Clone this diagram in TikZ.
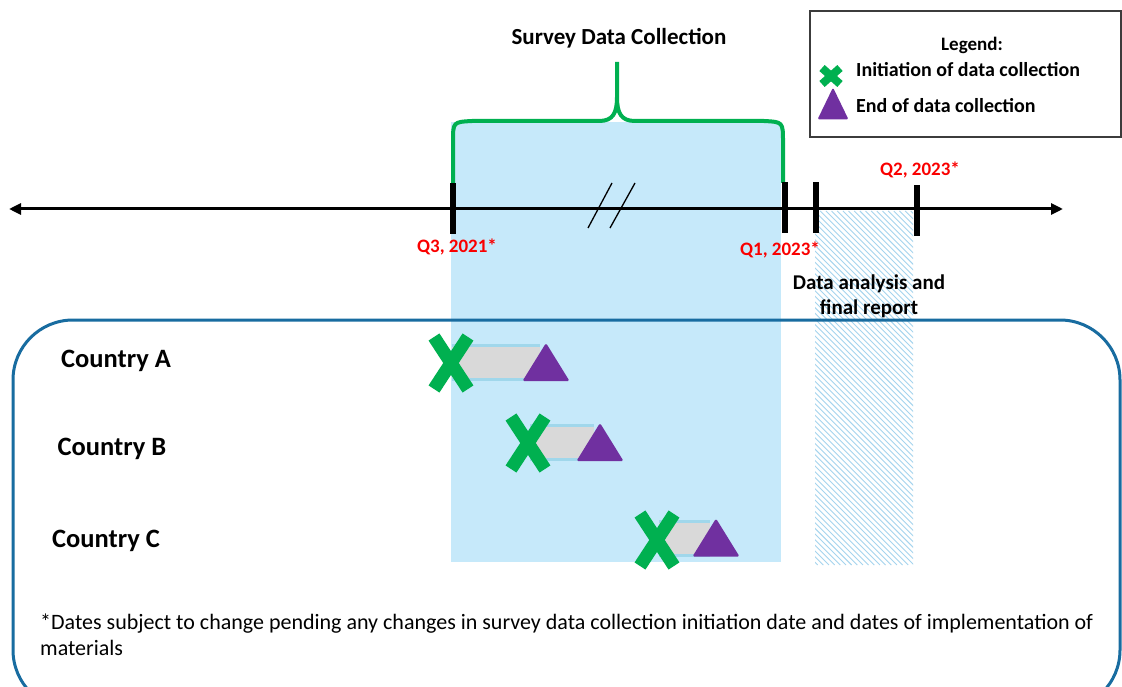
\documentclass[tikz,border=0pt]{standalone}
\usepackage{fontspec}
\setmainfont{Carlito}
\usetikzlibrary{arrows.meta}
\definecolor{survblue}{RGB}{198,233,250}
\definecolor{hatchblue}{RGB}{165,212,238}
\definecolor{bracegreen}{RGB}{0,176,80}
\definecolor{markgreen}{RGB}{0,176,80}
\definecolor{markpurple}{RGB}{112,48,160}
\definecolor{frameblue}{RGB}{24,108,160}
\definecolor{barblue}{RGB}{160,215,235}
\definecolor{bargray}{RGB}{217,217,217}
\definecolor{qred}{RGB}{250,0,0}
\definecolor{legframe}{RGB}{60,60,60}
\begin{document}
\begin{tikzpicture}[x=1pt,y=-1pt,
  tickmark/.style={fill=black,inner sep=0pt,minimum width=6pt,minimum height=51pt},
  qlabel/.style={text=qred,font=\bfseries\fontsize{19}{22}\selectfont,inner sep=0pt},
  country/.style={font=\bfseries\fontsize{26.5}{30}\selectfont,inner sep=0pt},
  legtext/.style={font=\bfseries\fontsize{20}{24}\selectfont,inner sep=0pt,anchor=west},
  xmark/.pic={\draw[markgreen,line width=13pt,line cap=butt] (-17,-26) -- (17,26) (-17,26) -- (17,-26);},
  smallxmark/.pic={\draw[markgreen,line width=8pt,line cap=butt] (-9,-8) -- (9,8) (-9,8) -- (9,-8);},
  tri/.pic={\fill[markpurple,rounded corners=1.5pt] (0,-19) -- (23.5,19) -- (-23.5,19) -- cycle;},
  smalltri/.pic={\fill[markpurple,rounded corners=1.5pt] (0,-16) -- (15.5,16) -- (-15.5,16) -- cycle;},
  barstrip/.style={barblue,line width=3.5pt}
]
\useasboundingbox (0,0) rectangle (1122,687);
\fill[white] (0,0) rectangle (1122,687);
% survey period area
\fill[survblue] (451,122) rectangle (781,562);
% hatched analysis area
\begin{scope}
\clip (815,211) rectangle (913,565);
\foreach \a in {458,463.66,...,918} \draw[hatchblue,line width=0.9pt] (\a,211) -- ({\a+354},565);
\end{scope}
% title and brace
\node[font=\bfseries\fontsize{23}{28}\selectfont,inner sep=0pt] (title) at (619,38) {Survey Data Collection};
\draw[bracegreen,line width=4pt,line join=round]
  (453,183) -- (453,142) .. controls (453,122) .. (472,121) -- (599,121)
  .. controls (613,121) and (617,113) .. (617,97) -- (617,62)
  (617,62) -- (617,97) .. controls (617,113) and (621,121) .. (635,121)
  -- (764,121) .. controls (783,122) .. (783,142) -- (783,183);
% timeline
\coordinate (tl) at (9,209);
\coordinate (tr) at (1063,209);
\draw[line width=3pt,{Triangle[length=12pt,width=11pt]}-{Triangle[length=12pt,width=11pt]}] (tl) -- (tr);
\node[tickmark] (t1) at (453,208.5) {};
\node[tickmark] (t2) at (785,208) {};
\node[tickmark] (t3) at (816,207.5) {};
\node[tickmark] (t4) at (917,210.5) {};
% break marks
\draw[line width=1.3pt] (588,228) -- (612,183) (610,228) -- (635,183);
% date labels
\node[qlabel] (q3) at (457,247) {Q3, 2021*};
\node[qlabel] (q1) at (780,250) {Q1, 2023*};
\node[qlabel] (q2) at (920,170) {Q2, 2023*};
\node[font=\bfseries\fontsize{21}{25}\selectfont,align=center,inner sep=0pt] (da) at (869,296) {Data analysis and\\final report};
% legend
\draw[legframe,line width=1.5pt] (810,11) rectangle (1121,137);
\node[font=\bfseries\fontsize{19}{23}\selectfont,inner sep=0pt] (leg) at (972,45) {Legend:};
\pic at (831,76) {smallxmark};
\pic at (833,103.5) {smalltri};
\node[legtext] (l1) at (856,70) {Initiation of data collection};
\node[legtext] (l2) at (856,106) {End of data collection};
% country frame
\draw[frameblue,line width=3pt,rounded corners=60pt] (13,320) rectangle (1120,710);
\node[country] (ca) at (116,361) {Country A};
\node[country] (cb) at (112,449) {Country B};
\node[country] (cc) at (106,541) {Country C};
% bars
\fill[bargray] (452,347) rectangle (540,378);
\draw[barstrip] (452,345.5) -- (540,345.5) (452,379.5) -- (540,379.5);
\fill[bargray] (530,427) rectangle (594,458);
\draw[barstrip] (530,425.5) -- (594,425.5) (530,459.5) -- (594,459.5);
\fill[bargray] (659,523) rectangle (710,554);
\draw[barstrip] (659,521.5) -- (710,521.5) (659,555.5) -- (710,555.5);
\pic at (451,363) {xmark};
\pic at (546,362) {tri};
\pic at (528,443) {xmark};
\pic at (600,442) {tri};
\pic at (657,540) {xmark};
\pic at (716,537.5) {tri};
% footnote
\node[font=\fontsize{22}{26}\selectfont,align=left,anchor=north west,inner sep=0pt] (fn) at (40,614) {*Dates subject to change pending any changes in survey data collection initiation date and dates of implementation of\\materials};
\end{tikzpicture}
\end{document}
